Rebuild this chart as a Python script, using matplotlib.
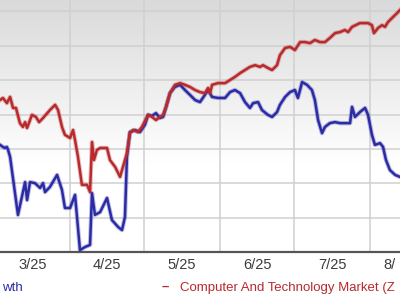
import matplotlib
matplotlib.use("Agg")
import matplotlib.pyplot as plt
import matplotlib.patheffects as pe
from matplotlib.colors import LinearSegmentedColormap
import numpy as np

# days counted from Mar 1, 2025 ; values are % price change
red_days = [2.5, 3.7, 5.3, 6.6, 7.8, 9.0, 10.6, 11.8, 12.7, 13.5, 15.5, 17.1, 18.4, 20.0,
            22.8, 24.9, 26.1, 27.7, 28.9, 31.0, 32.2, 33.0, 34.2, 35.8, 37.9, 39.1, 39.9,
            40.7, 41.9, 43.2, 46.0, 47.2, 49.3, 51.3, 52.1, 54.1, 55.3, 56.6, 58.6, 60.2,
            62.7, 64.3, 65.9, 67.5, 68.8, 70.0, 71.6, 73.6, 75.7, 77.7, 79.7, 81.8, 83.8,
            85.8, 87.1, 87.9, 88.7, 91.1, 94.0, 96.0, 98.0, 100.1, 102.1, 104.1, 106.2,
            108.2, 109.4, 111.4, 113.1, 115.1, 116.3, 118.4, 120.4, 122.4, 124.5, 126.5,
            128.5, 130.5, 132.6, 134.6, 136.6, 138.7, 140.7, 142.7, 144.0, 145.6, 148.8,
            152.1, 153.7, 154.5, 156.2, 157.8, 159.0, 160.2, 162.3, 163.9, 165.1]
red_vals = [14.2, 14.8, 13.3, 15.1, 11.9, 11.9, 7.5, 6.4, 7.8, 6.1, 9.9, 9.3, 7.8, 9.0,
            11.3, 12.8, 11.3, 6.4, 4.1, 3.2, 5.5, 2.6, -2.3, -10.4, -10.4, -12.5, 2.0,
            -3.2, -0.3, 0.3, 0.3, -3.2, -5.2, -8.1, -6.1, -1.2, 4.6, 5.5, 4.9, 6.4,
            9.9, 9.3, 8.4, 9.3, 9.9, 12.2, 16.2, 18.6, 19.1, 18.6, 18.0, 17.1, 16.5,
            16.2, 17.7, 16.2, 18.6, 19.1, 19.1, 20.0, 20.9, 22.0, 22.9, 23.8, 24.3,
            23.8, 24.3, 23.5, 22.9, 24.3, 27.2, 29.3, 29.6, 28.7, 31.0, 31.0,
            30.7, 31.6, 31.0, 31.0, 32.2, 33.6, 33.9, 34.5, 33.9, 35.4, 36.5,
            36.5, 35.9, 33.6, 35.1, 35.9, 35.4, 36.8, 38.3, 39.4, 40.3]

blue_days = [2.5, 3.7, 4.5, 5.3, 5.8, 6.6, 9.8, 12.7, 13.5, 14.7, 16.7, 18.8, 20.0, 20.8,
             22.8, 25.7, 27.7, 28.9, 31.0, 33.0, 33.8, 35.0, 37.1, 39.1, 39.9, 41.1, 43.2,
             46.0, 48.0, 50.5, 52.1, 53.3, 54.1, 55.3, 57.4, 59.4, 61.4, 62.7, 64.3, 65.9,
             67.5, 68.8, 70.0, 71.6, 73.6, 75.7, 77.7, 79.7, 81.8, 83.8, 85.8, 87.1, 88.7,
             91.1, 94.0, 96.0, 98.0, 100.1, 102.1, 104.1, 105.4, 107.4, 109.0, 111.4, 113.1,
             115.1, 116.3, 118.4, 120.4, 122.4, 123.6, 125.3, 127.3, 129.3, 130.5, 131.8,
             133.4, 134.6, 136.6, 138.7, 140.7, 142.7, 144.8, 145.6, 146.8, 148.8, 150.9,
             152.1, 153.7, 154.9, 157.0, 158.2, 159.4, 161.0, 163.1, 165.1]
blue_vals = [1.2, 0.6, 0.3, 0.6, -0.3, -2.3, -19.1, -9.6, -14.8, -9.6, -9.9, -11.3, -9.9, -12.5,
             -11.0, -7.5, -11.9, -17.1, -17.1, -13.3, -19.7, -29.3, -28.4, -27.8, -12.8, -19.1, -18.3,
             -14.2, -20.6, -22.6, -23.5, -19.7, -2.3, 4.9, 5.5, 4.9, 7.0, 9.9, 9.6, 10.4,
             9.0, 9.3, 12.2, 16.2, 18.0, 18.6, 17.1, 15.7, 14.2, 13.6, 15.7, 17.1, 15.1,
             14.8, 14.8, 16.5, 17.1, 16.2, 13.6, 11.9, 13.3, 13.6, 11.3, 9.9, 9.3,
             10.7, 12.8, 15.1, 16.5, 17.1, 14.8, 19.4, 18.6, 17.1, 14.2, 8.4,
             4.6, 6.4, 7.5, 7.8, 7.5, 7.5, 7.5, 12.2, 9.3, 10.7, 11.9,
             9.9, 4.1, 1.2, 1.7, 0.6, -3.2, -6.1, -7.5, -8.1]

month_starts = [31, 61, 92, 122, 153]
month_mids = [16, 46, 76.5, 107, 137.5, 168]
month_labels = ["3/25", "4/25", "5/25", "6/25", "7/25", "8/"]
grid_vals = [-20, -10, 0, 10, 20, 30, 40]

red_c = "#b82a2c"
blue_c = "#2b2ba6"

plt.rcParams['font.family'] = ['Liberation Sans', 'DejaVu Sans']

fig = plt.figure(figsize=(4, 3), dpi=100)
ax = fig.add_axes([0, 0.16, 1, 0.84])
ax.set_xlim(2.5, 165.1)
ax.set_ylim(-29.86, 43.2)

# gray-to-white background gradient (smooth, white in lower half)
grad = np.linspace(0, 1, 256).reshape(-1, 1)
grad = np.clip((grad - 0.35) / 0.65, 0, 1)
bg = LinearSegmentedColormap.from_list("g", ["#ffffff", "#dadada"])
ax.imshow(grad, cmap=bg, extent=[0, 1, 0, 1], transform=ax.transAxes,
          aspect='auto', origin='lower', zorder=0)

for v in grid_vals:
    ax.axhline(v, color="#d0d0d0", lw=1.1, zorder=1)
for d in month_starts:
    ax.axvline(d, color="#d0d0d0", lw=1.1, zorder=1)

glow = lambda c: [pe.Stroke(linewidth=3.2, foreground=c, alpha=0.3), pe.Normal()]
ax.plot(blue_days, blue_vals, color=blue_c, lw=1.8, zorder=3, path_effects=glow(blue_c))
ax.plot(red_days, red_vals, color=red_c, lw=1.8, zorder=4, path_effects=glow(red_c))

for s in ["top", "left", "right"]:
    ax.spines[s].set_visible(False)
ax.spines["bottom"].set_color("#555555")
ax.spines["bottom"].set_linewidth(1.6)
ax.set_yticks([])
ax.set_xticks([])

for d, lab in zip(month_mids, month_labels):
    ha = 'left' if lab == "8/" else 'center'
    x = 158.3 if lab == "8/" else d
    ax.text(x, -33.6, lab, ha=ha, va='center', fontsize=10.5, color="#3c3c3c", clip_on=False)

fig.text(2 / 400, 1 - 288 / 300, "wth", ha='left', va='center', fontsize=9.5, color=blue_c)
fig.text(162 / 400, 1 - 287 / 300, "\u2013", ha='left', va='center', fontsize=9.5,
         color=red_c, fontweight='bold')
fig.text(180 / 400, 1 - 288 / 300, "Computer And Technology Market (Z", ha='left', va='center',
         fontsize=9.5, color=red_c)

fig.savefig("out.png", dpi=100)
